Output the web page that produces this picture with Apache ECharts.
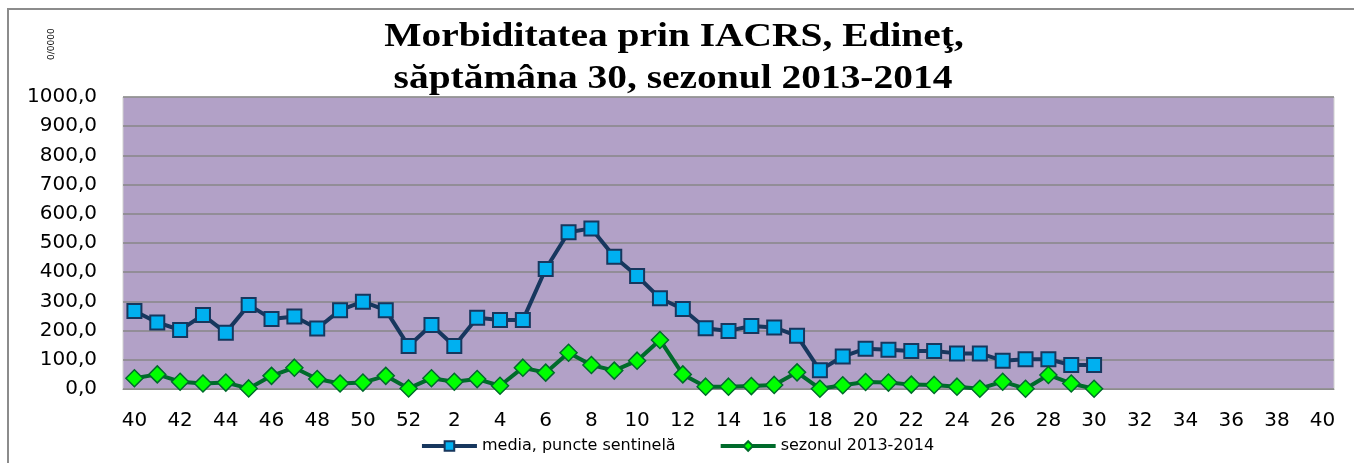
<!DOCTYPE html>
<html>
<head>
<meta charset="utf-8">
<script src="https://cdn.jsdelivr.net/npm/echarts@6/dist/echarts.min.js"></script>
<style>
  html, body { margin: 0; padding: 0; background: #fff; }
  #chart { width: 1354px; height: 463px; }
</style>
</head>
<body>
<div id="chart"></div>
<script>
// weeks 40..52, 1..30, 31..40
var weeks = [40, 41, 42, 43, 44, 45, 46, 47, 48, 49, 50, 51, 52,
  1, 2, 3, 4, 5, 6, 7, 8, 9, 10, 11, 12, 13, 14, 15, 16, 17, 18, 19, 20,
  21, 22, 23, 24, 25, 26, 27, 28, 29, 30,
  31, 32, 33, 34, 35, 36, 37, 38, 39, 40]

var mediaValues = [267, 228, 202, 253, 193, 288, 240, 248, 207, 270, 299, 270, 147,
  219, 147, 244, 236, 236, 411, 537, 550, 453, 387, 311, 274, 208, 199, 216, 211, 182,
  64, 111, 138, 134, 130, 130, 122, 122, 97, 102, 102, 82, 82]

var sezonValues = [37, 50, 25, 19, 22, 2, 45, 73, 34, 19, 22, 45, 2,
  37, 25, 34, 11, 73, 56, 124, 82, 63, 97, 168, 50, 8, 8, 10, 14, 57,
  1, 13, 24, 22, 15, 14, 8, 1, 25, 1, 48, 19, 1]

var seriesNames = ['media, puncte sentinelă', 'sezonul 2013-2014']
var titleLines = ['Morbiditatea prin IACRS, Edineţ,', 'săptămâna 30, sezonul 2013-2014']

var chart = echarts.init(document.getElementById('chart'))

var titleFont = 'bold 34px "Liberation Serif"'

chart.setOption({
  animation: false,
  graphic: [
    {
      type: 'polyline',
      shape: { points: [[8, 463], [8, 9], [1354, 9]] },
      style: { stroke: '#8c8c8c', lineWidth: 2, fill: null }
    },
    {
      type: 'text',
      x: 47,
      y: 60,
      rotation: Math.PI / 2,
      style: { text: '0/0000', font: '9px "DejaVu Sans"', fill: '#000' }
    },
    {
      type: 'text',
      x: 674,
      y: 20,
      scaleX: 1.16,
      style: { text: titleLines[0], font: titleFont, fill: '#000', align: 'center', verticalAlign: 'top' }
    },
    {
      type: 'text',
      x: 673,
      y: 62,
      scaleX: 1.16,
      style: { text: titleLines[1], font: titleFont, fill: '#000', align: 'center', verticalAlign: 'top' }
    }
  ],
  legend: {
    bottom: 4,
    left: 'center',
    itemWidth: 55,
    itemHeight: 12,
    itemGap: 43,
    textStyle: { fontFamily: 'DejaVu Sans', fontSize: 16, color: '#000' },
    data: [
      { name: seriesNames[0], lineStyle: { width: 4 } },
      { name: seriesNames[1], lineStyle: { width: 4 } }
    ]
  },
  grid: {
    left: 123,
    right: 20,
    top: 97,
    bottom: 74,
    show: true,
    backgroundColor: '#B2A1C7',
    borderColor: '#d0d0d0',
    borderWidth: 1
  },
  xAxis: {
    type: 'category',
    data: weeks,
    boundaryGap: true,
    axisLine: { lineStyle: { color: '#8c8c8c', width: 1 } },
    axisTick: { show: false },
    axisLabel: {
      interval: 1,
      margin: 22,
      fontFamily: 'DejaVu Sans',
      fontSize: 20,
      color: '#000'
    }
  },
  yAxis: {
    type: 'value',
    min: 0,
    max: 1000,
    interval: 100,
    axisLine: { show: false },
    axisTick: { show: false },
    splitLine: { lineStyle: { color: '#878787', width: 1.5 } },
    axisLabel: {
      margin: 26,
      fontFamily: 'DejaVu Sans',
      fontSize: 20,
      color: '#000',
      formatter: function(v) {
        return v.toFixed(1).replace('.', ',')
      }
    }
  },
  series: [
    {
      name: seriesNames[0],
      type: 'line',
      data: mediaValues,
      symbol: 'rect',
      symbolSize: 14,
      showAllSymbol: true,
      z: 3,
      lineStyle: { color: '#17375E', width: 4 },
      itemStyle: { color: '#00B0F0', borderColor: '#17375E', borderWidth: 2 }
    },
    {
      name: seriesNames[1],
      type: 'line',
      data: sezonValues,
      symbol: 'diamond',
      symbolSize: 17,
      showAllSymbol: true,
      z: 4,
      lineStyle: { color: '#006B2B', width: 4 },
      itemStyle: { color: '#00FF00', borderColor: '#006B2B', borderWidth: 1.5 }
    }
  ]
})
</script>
</body>
</html>
